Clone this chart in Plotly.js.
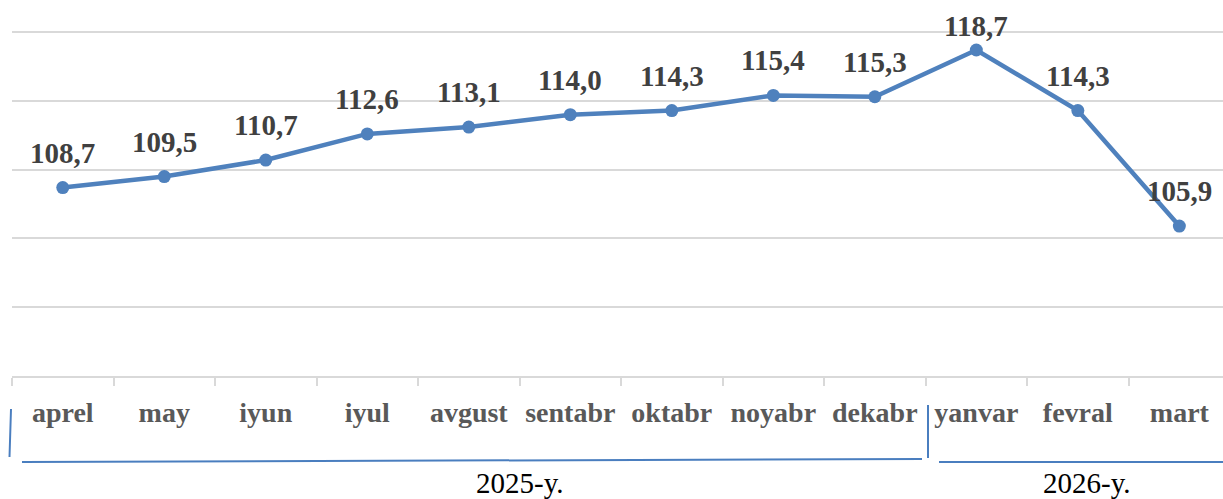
<!DOCTYPE html>
<html>
<head>
<meta charset="utf-8">
<script src="https://cdn.plot.ly/plotly-3.0.1.min.js"></script>
<style>html,body{margin:0;padding:0;background:#fff;}#chart{width:1223px;height:499px;}</style>
</head>
<body>
<div id="chart"></div>
<script>
const months = ["aprel","may","iyun","iyul","avgust","sentabr","oktabr","noyabr","dekabr","yanvar","fevral","mart"];
const values = [108.7,109.5,110.7,112.6,113.1,114.0,114.3,115.4,115.3,118.7,114.3,105.9];
const yearLabels = ["2025-y.","2026-y."];

const W = 1223, H = 499;
const YMIN = 95, YMAX = 120.3;
const M = {l:12, r:0, t:28, b:123};
const pw = W - M.l - M.r, ph = H - M.t - M.b;
const px = x => (x - M.l) / pw;
const py = y => (H - M.b - y) / ph;
const valToPx = v => M.t + (YMAX - v) * ph / (YMAX - YMIN);

const labels = values.map(v => v.toFixed(1).replace('.', ','));
const serif = 'Liberation Serif, Times New Roman, serif';

const trace = {
  x: months, y: values, type: 'scatter', mode: 'lines+markers',
  line: {color: '#4f81bd', width: 4.5},
  marker: {color: '#4f81bd', size: 13},
  cliponaxis: false, hoverinfo: 'skip'
};

const dataLabels = values.map((v, i) => {
  const p = valToPx(v);
  const center = Math.max(p - 35, 26);
  return {x: months[i], y: v, xref:'x', yref:'y', text: labels[i], showarrow:false,
          xanchor:'center', yanchor:'middle', yshift: p - center,
          font:{family: serif, size: 29, color:'#404040', weight:'bold'}};
});

const blue = {color: '#4a7ebf', width: 2};
const shapes = [
  {type:'line', xref:'paper', yref:'paper', x0:px(11), y0:py(409), x1:px(9.5), y1:py(457), line: blue},
  {type:'line', xref:'paper', yref:'paper', x0:px(22), y0:py(462), x1:px(922), y1:py(459), line: blue},
  {type:'line', xref:'paper', yref:'paper', x0:px(928), y0:py(405), x1:px(928), y1:py(458), line: blue},
  {type:'line', xref:'paper', yref:'paper', x0:px(939), y0:py(462), x1:px(1223), y1:py(462), line: blue}
];

const annotations = dataLabels.concat([
  {text: yearLabels[0], x: px(520), y: py(483), xref:'paper', yref:'paper', showarrow:false, xanchor:'center', yanchor:'middle',
   font:{family: serif, size:29, color:'#000'}},
  {text: yearLabels[1], x: px(1087), y: py(483), xref:'paper', yref:'paper', showarrow:false, xanchor:'center', yanchor:'middle',
   font:{family: serif, size:29, color:'#000'}}
]);

const layout = {
  width: W, height: H, margin: M, showlegend: false,
  paper_bgcolor: '#fff', plot_bgcolor: '#fff',
  xaxis: {type:'category', range:[-0.5, 11.43], showgrid:false, zeroline:false,
          showline:true, linecolor:'#d9d9d9', linewidth:2,
          ticks:'outside', tickson:'boundaries', ticklen:8, tickcolor:'#d9d9d9', tickwidth:2,
          tickfont:{family: serif, size:28, color:'#595959', weight:'bold'},
          ticklabelstandoff: 10, fixedrange:true},
  yaxis: {range:[YMIN, YMAX], tick0:95, dtick:5, showgrid:true, gridcolor:'#d9d9d9', gridwidth:2,
          showticklabels:false, zeroline:false, showline:false, ticks:'', fixedrange:true},
  shapes: shapes, annotations: annotations
};

Plotly.newPlot('chart', [trace], layout, {displayModeBar:false, staticPlot:true});
</script>
</body>
</html>
